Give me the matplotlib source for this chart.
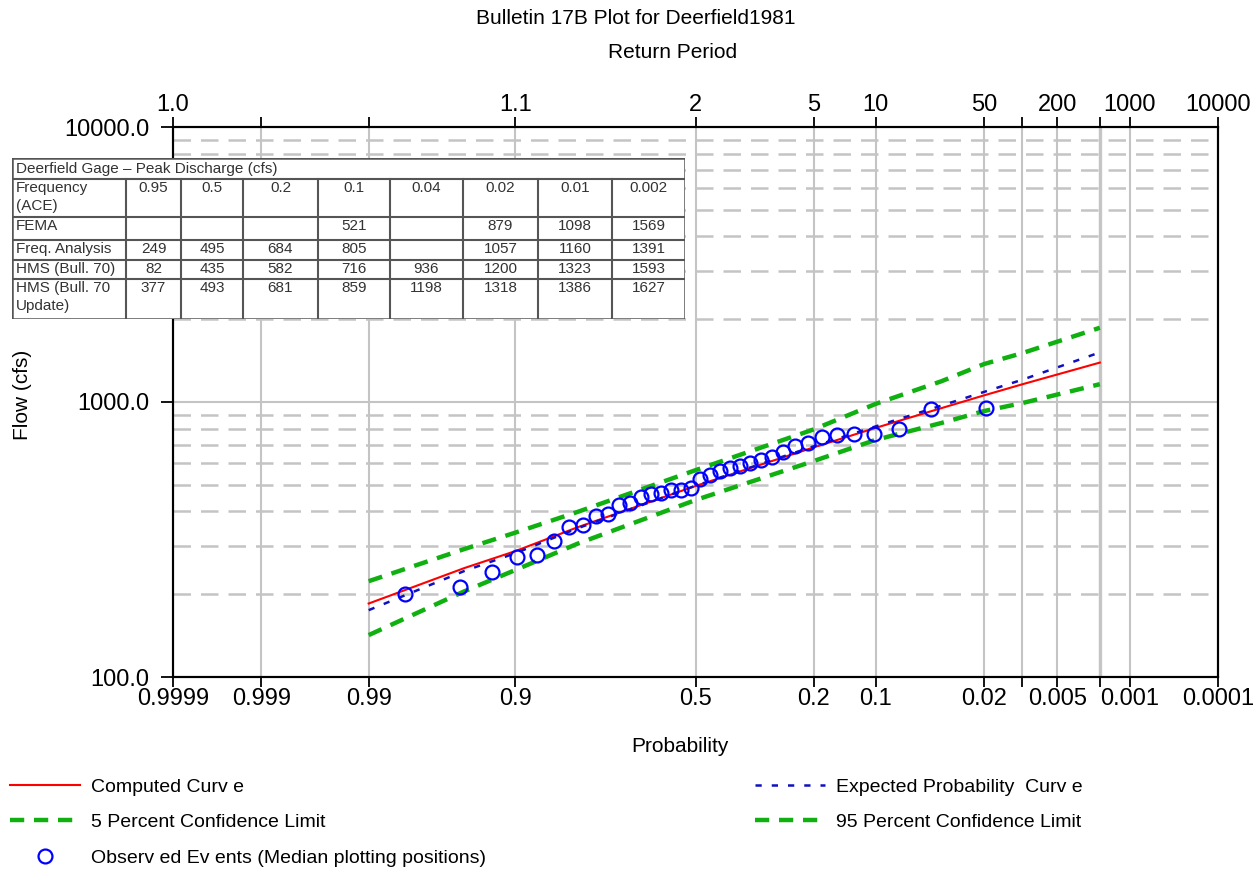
import matplotlib
matplotlib.use("Agg")
import matplotlib.pyplot as plt
import numpy as np
from statistics import NormalDist

# ---- data ----
grid_probs = [0.9999, 0.999, 0.99, 0.9, 0.5, 0.2, 0.1, 0.02, 0.01, 0.005, 0.002, 0.001, 0.0001]
bottom_labels = ["0.9999", "0.999", "0.99", "0.9", "0.5", "0.2", "0.1", "0.02", "", "0.005", "", "0.001", "0.0001"]
top_labels = ["1.0", "", "", "1.1", "2", "5", "10", "50", "", "200", "", "1000", "10000"]

curve_probs = [0.99, 0.95, 0.9, 0.8, 0.5, 0.2, 0.1, 0.04, 0.02, 0.01, 0.002]
computed = [185, 249, 287, 350, 495, 684, 805, 950, 1057, 1160, 1391]
expected = [175, 243, 282, 347, 496, 690, 815, 970, 1088, 1205, 1515]
upper_cl = [223, 292, 335, 398, 565, 795, 984, 1190, 1374, 1506, 1862]
lower_cl = [142, 205, 245, 305, 440, 610, 728, 839, 927, 991, 1161]

obs_probs = [0.0192, 0.0467, 0.0742, 0.1016, 0.1291, 0.1566, 0.1841, 0.2115, 0.2390,
             0.2665, 0.2940, 0.3214, 0.3489, 0.3764, 0.4038, 0.4313, 0.4588, 0.4863,
             0.5137, 0.5412, 0.5687, 0.5962, 0.6236, 0.6511, 0.6786, 0.7060, 0.7335,
             0.7610, 0.7885, 0.8159, 0.8434, 0.8709, 0.8984, 0.9258, 0.9533, 0.9808]
obs_flow = [950, 945, 798, 765, 765, 760, 746, 712, 690, 658, 631, 615, 600, 585, 575,
            561, 543, 525, 487, 479, 479, 466, 462, 452, 428, 422, 390, 384, 358, 350,
            312, 277, 273, 241, 212, 200]

table_title = "Deerfield Gage \u2013 Peak Discharge (cfs)"
table_rows = ["Frequency\n(ACE)", "FEMA", "Freq. Analysis", "HMS (Bull. 70)", "HMS (Bull. 70\nUpdate)"]
table_ace = ["0.95", "0.5", "0.2", "0.1", "0.04", "0.02", "0.01", "0.002"]
table_fema = ["", "", "", "521", "", "879", "1098", "1569"]
table_freq = ["249", "495", "684", "805", "", "1057", "1160", "1391"]
table_hms = ["82", "435", "582", "716", "936", "1200", "1323", "1593"]
table_hms_upd = ["377", "493", "681", "859", "1198", "1318", "1386", "1627"]

plt.rcParams['font.family'] = ['Liberation Sans', 'DejaVu Sans']

_nd = NormalDist()


def zq(p):
    # exceedance probability -> normal deviate (frequent events on the left)
    return np.array([_nd.inv_cdf(1.0 - v) for v in np.atleast_1d(p)])


W, H = 1258, 873
fig = plt.figure(figsize=(W / 100, H / 100), dpi=100)
ax = fig.add_axes([173 / W, 1 - 677 / H, (1218 - 173) / W, (677 - 127) / H])

ax.set_yscale('log')
ax.set_ylim(100, 10000)
ax.set_xlim(zq(0.9999)[0], zq(0.0001)[0])

grid_c = '#c4c4c4'
ax.set_xticks(zq(grid_probs))
ax.set_xticklabels(bottom_labels, fontsize=17)
ax.set_yticks([100, 1000, 10000])
ax.set_yticklabels(["100.0", "1000.0", "10000.0"], fontsize=17)
minor_y = [200, 300, 400, 500, 600, 700, 800, 900, 2000, 3000, 4000, 5000, 6000, 7000, 8000, 9000]
ax.set_yticks(minor_y, minor=True)
ax.tick_params(axis='y', which='minor', length=0)
ax.tick_params(axis='x', which='major', length=7, width=1.3, direction='out', pad=1)
ax.tick_params(axis='y', which='major', length=9, width=1.3, direction='out', pad=8)
ax.grid(True, axis='x', which='major', color=grid_c, lw=1.5)
ax.grid(True, axis='y', which='major', color=grid_c, lw=1.5)
ax.grid(True, axis='y', which='minor', color=grid_c, lw=1.8, linestyle=(0, (7, 4)))
ax.axvline(zq(0.002)[0], color='#c8c8c8', lw=2.4, zorder=1)
for s in ax.spines.values():
    s.set_linewidth(1.5)

x_c = zq(curve_probs)
ax.plot(x_c, computed, color='#ff0000', lw=1.5, label='Computed Curv e', zorder=4)
ax.plot(x_c, expected, color='#1010c0', lw=1.8, linestyle=(0, (2.5, 4)),
        label='Expected Probability  Curv e', zorder=4)
ax.plot(x_c, lower_cl, color='#10b010', lw=3.2, linestyle=(0, (3.2, 2.2)),
        label='5 Percent Confidence Limit', zorder=3)
ax.plot(x_c, upper_cl, color='#10b010', lw=3.2, linestyle=(0, (3.2, 2.2)),
        label='95 Percent Confidence Limit', zorder=3)
ax.plot(zq(obs_probs), obs_flow, linestyle='none', marker='o', markersize=10,
        markerfacecolor='none', markeredgecolor='#0000ff', markeredgewidth=1.6,
        label='Observ ed Ev ents (Median plotting positions)', zorder=5)

# return period axis on top
top = ax.twiny()
top.set_xlim(ax.get_xlim())
top.set_xticks(zq(grid_probs))
top.set_xticklabels(top_labels, fontsize=17)
top.tick_params(axis='x', length=7, width=1.3, direction='out', pad=1)
for s in top.spines.values():
    s.set_linewidth(1.5)

fig.text(636 / W, 1 - 19 / H, "Bulletin 17B Plot for Deerfield1981", ha='center', va='center', fontsize=15)
fig.text(673 / W, 1 - 52 / H, "Return Period", ha='center', va='center', fontsize=15)
fig.text(680 / W, 1 - 746 / H, "Probability", ha='center', va='center', fontsize=15)
fig.text(23 / W, 1 - 395 / H, "Flow (cfs)", ha='center', va='center', rotation=90, fontsize=15)

# legend below the plot, two blocks
comp, expc, low, upp, obs = [l for l in ax.get_lines() if not l.get_label().startswith('_')][-5:]
leg_kw = dict(frameon=False, fontsize=14, handlelength=3.6, handletextpad=0.55,
              labelspacing=0.92, numpoints=1, borderaxespad=0, borderpad=0)
fig.legend([comp, low, obs], [comp.get_label(), low.get_label(), obs.get_label()],
           loc='upper left', bbox_to_anchor=(10 / W, 1 - 778 / H), **leg_kw)
fig.legend([expc, upp], [expc.get_label(), upp.get_label()],
           loc='upper left', bbox_to_anchor=(755 / W, 1 - 778 / H), **leg_kw)

# inset table (pixel coordinates of the figure)
col_x = [12, 126, 181, 243, 318, 390, 463, 538, 612, 685]
row_y = [158, 179, 217, 240, 260, 279, 319]
tab = fig.add_axes([col_x[0] / W, 1 - row_y[-1] / H, (col_x[-1] - col_x[0]) / W,
                    (row_y[-1] - row_y[0]) / H], zorder=10)
tab.set_xlim(col_x[0], col_x[-1])
tab.set_ylim(row_y[-1], row_y[0])
tab.axis('off')
tab.add_patch(plt.Rectangle((col_x[0], row_y[0]), col_x[-1] - col_x[0], row_y[-1] - row_y[0],
                            facecolor='white', edgecolor='#555555', lw=1.8))
for yv in row_y[1:-1]:
    tab.plot([col_x[0], col_x[-1]], [yv, yv], color='#555555', lw=1.5)
for xv in col_x[1:-1]:
    tab.plot([xv, xv], [row_y[1], row_y[-1]], color='#555555', lw=1.5)
tfont = dict(family=['Liberation Sans Narrow', 'Liberation Sans'], fontsize=11, color='#333333')
tab.text(col_x[0] + 4, (row_y[0] + row_y[1]) / 2, table_title, ha='left', va='center', **tfont)
values = [table_ace, table_fema, table_freq, table_hms, table_hms_upd]
for r, (name, vals) in enumerate(zip(table_rows, values)):
    y0 = row_y[r + 1]
    tab.text(col_x[0] + 4, y0 + 2, name, ha='left', va='top', linespacing=1.4, **tfont)
    for c, v in enumerate(vals):
        tab.text((col_x[c + 1] + col_x[c + 2]) / 2, y0 + 2, v, ha='center', va='top', **tfont)

fig.savefig('out.png', dpi=100)
